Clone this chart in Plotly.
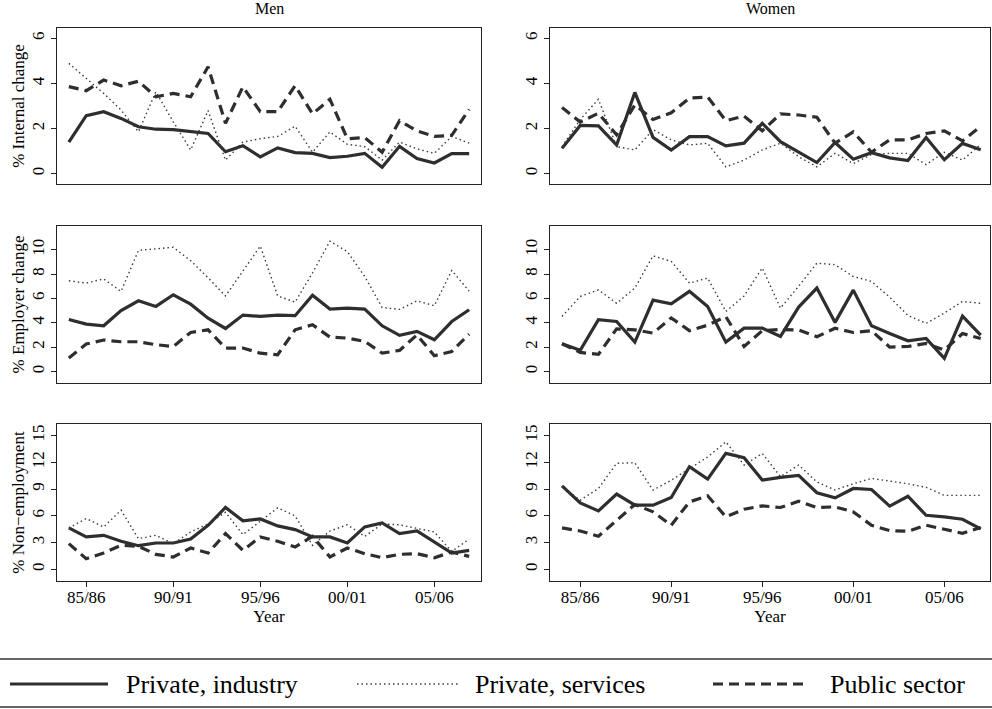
import plotly.graph_objects as go

# Survey years 84/85 .. 07/08, plotted at the first calendar year of each pair
years = list(range(1984, 2008))
tick_years = [1985, 1990, 1995, 2000, 2005]
tick_labels = ["85/86", "90/91", "95/96", "00/01", "05/06"]

series_names = ["Private, industry", "Private, services", "Public sector"]

# % internal change
men_internal_industry = [1.40, 2.57, 2.75, 2.45, 2.08, 1.97, 1.95, 1.86, 1.78, 0.97, 1.24, 0.74,
                         1.14, 0.93, 0.90, 0.71, 0.77, 0.90, 0.28, 1.21, 0.67, 0.47, 0.89, 0.89]
men_internal_services = [4.89, 4.22, 3.56, 2.82, 1.86, 3.63, 2.30, 1.05, 2.80, 0.60, 1.40, 1.55,
                         1.65, 2.10, 0.95, 1.85, 1.30, 1.20, 0.60, 1.40, 1.10, 0.90, 1.65, 1.35]
men_internal_public = [3.86, 3.68, 4.15, 3.90, 4.10, 3.41, 3.56, 3.41, 4.74, 2.23, 3.85, 2.75,
                       2.75, 3.90, 2.65, 3.30, 1.55, 1.60, 0.95, 2.35, 1.90, 1.65, 1.70, 2.85]
women_internal_industry = [1.12, 2.14, 2.12, 1.27, 3.60, 1.61, 1.05, 1.64, 1.64, 1.23, 1.35, 2.23,
                           1.42, 0.95, 0.49, 1.38, 0.64, 0.93, 0.70, 0.58, 1.60, 0.62, 1.34, 1.06]
women_internal_services = [1.20, 2.40, 3.30, 1.20, 1.05, 1.95, 1.50, 1.27, 1.35, 0.30, 0.60, 1.05,
                           1.35, 0.75, 0.30, 0.90, 0.45, 0.85, 0.90, 0.90, 0.40, 0.95, 0.60, 1.30]
women_internal_public = [2.93, 2.29, 2.68, 1.72, 3.05, 2.40, 2.70, 3.35, 3.40, 2.35, 2.55, 1.90,
                         2.65, 2.60, 2.50, 1.35, 1.85, 0.95, 1.50, 1.50, 1.78, 1.90, 1.45, 2.10]

# % employer change
men_employer_industry = [4.27, 3.89, 3.75, 5.00, 5.80, 5.34, 6.30, 5.53, 4.38, 3.53, 4.63, 4.52,
                         4.63, 4.58, 6.27, 5.12, 5.20, 5.12, 3.75, 2.96, 3.29, 2.60, 4.10, 5.07]
men_employer_services = [7.45, 7.26, 7.60, 6.58, 9.95, 10.10, 10.20, 9.10, 7.70, 6.20, 8.20, 10.30,
                         6.20, 5.70, 8.10, 10.70, 9.85, 7.80, 5.25, 5.10, 5.80, 5.40, 8.30, 6.60]
men_employer_public = [1.10, 2.25, 2.58, 2.44, 2.44, 2.20, 2.05, 3.20, 3.42, 1.92, 1.92, 1.50,
                       1.37, 3.42, 3.84, 2.82, 2.74, 2.47, 1.50, 1.73, 3.00, 1.29, 1.64, 3.07]
women_employer_industry = [2.27, 1.73, 4.25, 4.11, 2.41, 5.86, 5.56, 6.58, 5.34, 2.41, 3.56, 3.56,
                           2.88, 5.29, 6.85, 4.03, 6.68, 3.75, 3.12, 2.52, 2.71, 1.07, 4.55, 2.99]
women_employer_services = [4.52, 6.16, 6.70, 5.60, 6.85, 9.50, 9.04, 7.26, 7.67, 4.93, 6.20, 8.50,
                           5.20, 7.00, 8.90, 8.77, 7.80, 7.40, 6.10, 4.60, 3.95, 4.80, 5.75, 5.60]
women_employer_public = [2.27, 1.56, 1.40, 3.50, 3.42, 3.15, 4.40, 3.35, 3.80, 4.50, 2.05, 3.35,
                         3.45, 3.40, 2.85, 3.55, 3.20, 3.35, 2.00, 2.05, 2.30, 1.76, 3.12, 2.70]

# % non-employment
men_nonemp_industry = [4.65, 3.64, 3.82, 3.15, 2.66, 2.96, 2.96, 3.41, 4.95, 6.94, 5.44, 5.66,
                       4.88, 4.46, 3.64, 3.64, 2.96, 4.76, 5.21, 4.01, 4.31, 3.11, 1.84, 2.14]
men_nonemp_services = [4.65, 5.70, 4.76, 6.64, 3.45, 3.82, 2.89, 4.20, 5.10, 6.40, 3.90, 5.40,
                       6.90, 6.00, 2.70, 4.30, 5.00, 3.70, 5.10, 5.00, 4.60, 4.20, 2.00, 3.40]
men_nonemp_public = [2.89, 1.20, 1.84, 2.70, 2.59, 1.69, 1.39, 2.40, 1.84, 4.01, 2.14, 3.64,
                     3.15, 2.51, 3.71, 1.39, 2.40, 1.76, 1.31, 1.69, 1.76, 1.31, 1.95, 1.46]
women_nonemp_industry = [9.37, 7.46, 6.56, 8.44, 7.20, 7.20, 8.06, 11.51, 10.12, 13.01, 12.52, 10.01,
                         10.31, 10.54, 8.59, 8.02, 9.07, 8.96, 7.10, 8.20, 6.07, 5.89, 5.62, 4.55]
women_nonemp_services = [9.30, 7.76, 9.07, 11.89, 11.96, 8.89, 10.00, 11.30, 12.60, 14.30, 11.70, 13.00,
                         10.40, 11.70, 9.80, 8.90, 9.60, 10.20, 9.90, 9.60, 9.20, 8.30, 8.30, 8.30]
women_nonemp_public = [4.65, 4.31, 3.71, 5.51, 7.27, 6.45, 4.95, 7.57, 8.25, 5.89, 6.75, 7.12,
                       6.94, 7.65, 6.94, 7.01, 6.45, 4.95, 4.35, 4.27, 4.95, 4.50, 4.05, 4.70]

FONT = "Liberation Serif, Times New Roman, serif"
INK = "#2e2e2e"
line_styles = [
    dict(color=INK, width=3.2, dash="solid"),
    dict(color="#3c3c3c", width=1.4, dash="1.5px,3px"),
    dict(color=INK, width=3.2, dash="10px,6px"),
]

panels = [
    # (row, col, series list, y title, y ticks, y range)
    (1, 1, [men_internal_industry, men_internal_services, men_internal_public],
     "% Internal change", [0, 2, 4, 6], [-0.46, 6.46]),
    (1, 2, [women_internal_industry, women_internal_services, women_internal_public],
     None, [0, 2, 4, 6], [-0.46, 6.46]),
    (2, 1, [men_employer_industry, men_employer_services, men_employer_public],
     "% Employer change", [0, 2, 4, 6, 8, 10], [-0.95, 11.95]),
    (2, 2, [women_employer_industry, women_employer_services, women_employer_public],
     None, [0, 2, 4, 6, 8, 10], [-0.95, 11.95]),
    (3, 1, [men_nonemp_industry, men_nonemp_services, men_nonemp_public],
     "% Non\u2212employment", [0, 3, 6, 9, 12, 15], [-1.3, 16.3]),
    (3, 2, [women_nonemp_industry, women_nonemp_services, women_nonemp_public],
     None, [0, 3, 6, 9, 12, 15], [-1.3, 16.3]),
]

W, H = 992, 709
col_px = {1: (57, 481), 2: (550, 990)}
row_px = {1: (28, 184), 2: (226, 383), 3: (424, 581)}
col_xrange = {1: [1984 - 0.68, 2007 + 0.68], 2: [1984 - 0.66, 2007 + 0.51]}

fig = go.Figure()
layout = dict(
    width=W, height=H,
    margin=dict(l=0, r=0, t=0, b=0),
    paper_bgcolor="white", plot_bgcolor="white",
    showlegend=False,
    font=dict(family=FONT, size=17, color="black"),
)

for i, (row, col, series, ytitle, yticks, yrange) in enumerate(panels, start=1):
    xa, ya = f"xaxis{i if i > 1 else ''}", f"yaxis{i if i > 1 else ''}"
    xr, yr = f"x{i if i > 1 else ''}", f"y{i if i > 1 else ''}"
    for name, vals, style in zip(series_names, series, line_styles):
        fig.add_trace(go.Scatter(x=years, y=vals, mode="lines", name=name,
                                 line=style, xaxis=xr, yaxis=yr, hoverinfo="skip"))
    x0, x1 = col_px[col]
    y0, y1 = row_px[row]
    bottom = row == 3
    layout[xa] = dict(
        domain=[x0 / W, x1 / W], anchor=yr, range=col_xrange[col],
        showline=True, mirror=True, linecolor="#222", linewidth=1,
        showgrid=False, zeroline=False,
        tickvals=tick_years if bottom else [], ticktext=tick_labels if bottom else [],
        ticks="outside" if bottom else "", ticklen=5, tickcolor="#222",
        showticklabels=bottom, tickfont=dict(family=FONT, size=17),
        ticklabelstandoff=-4,
        title=dict(text="Year", font=dict(family=FONT, size=17), standoff=0) if bottom else None,
    )
    layout[ya] = dict(
        domain=[1 - y1 / H, 1 - y0 / H], anchor=xr, range=yrange,
        showline=True, mirror=True, linecolor="#222", linewidth=1,
        showgrid=False, zeroline=False,
        tickvals=yticks, ticks="outside", ticklen=5, tickcolor="#222",
        tickangle=-90, tickfont=dict(family=FONT, size=17),
        title=dict(text=ytitle, font=dict(family=FONT, size=17), standoff=0) if ytitle else None,
    )

fig.update_layout(**layout)

# Column headings
for text, (x0, x1) in (("Men", col_px[1]), ("Women", col_px[2])):
    fig.add_annotation(text=text, x=(x0 + x1) / 2 / W, y=1 - 9 / H, xref="paper", yref="paper",
                       showarrow=False, xanchor="center", yanchor="middle",
                       font=dict(family=FONT, size=16))

# Legend box: rules above and below, line samples and labels
for yy in (659, 707):
    fig.add_shape(type="line", xref="paper", yref="paper", x0=0, x1=1,
                  y0=1 - yy / H, y1=1 - yy / H, line=dict(color="#333", width=1.5))
legend_items = [(10, 108, 124), (357, 458, 473), (713, 806, 828)]
for (lx0, lx1, tx), name, style in zip(legend_items, series_names, line_styles):
    fig.add_shape(type="line", xref="paper", yref="paper", x0=lx0 / W, x1=lx1 / W,
                  y0=1 - 684 / H, y1=1 - 684 / H, line=style)
    fig.add_annotation(text=name, x=tx / W, y=1 - 684 / H, xref="paper", yref="paper",
                       showarrow=False, xanchor="left", yanchor="middle",
                       font=dict(family=FONT, size=26))

fig.write_html("out.html")
